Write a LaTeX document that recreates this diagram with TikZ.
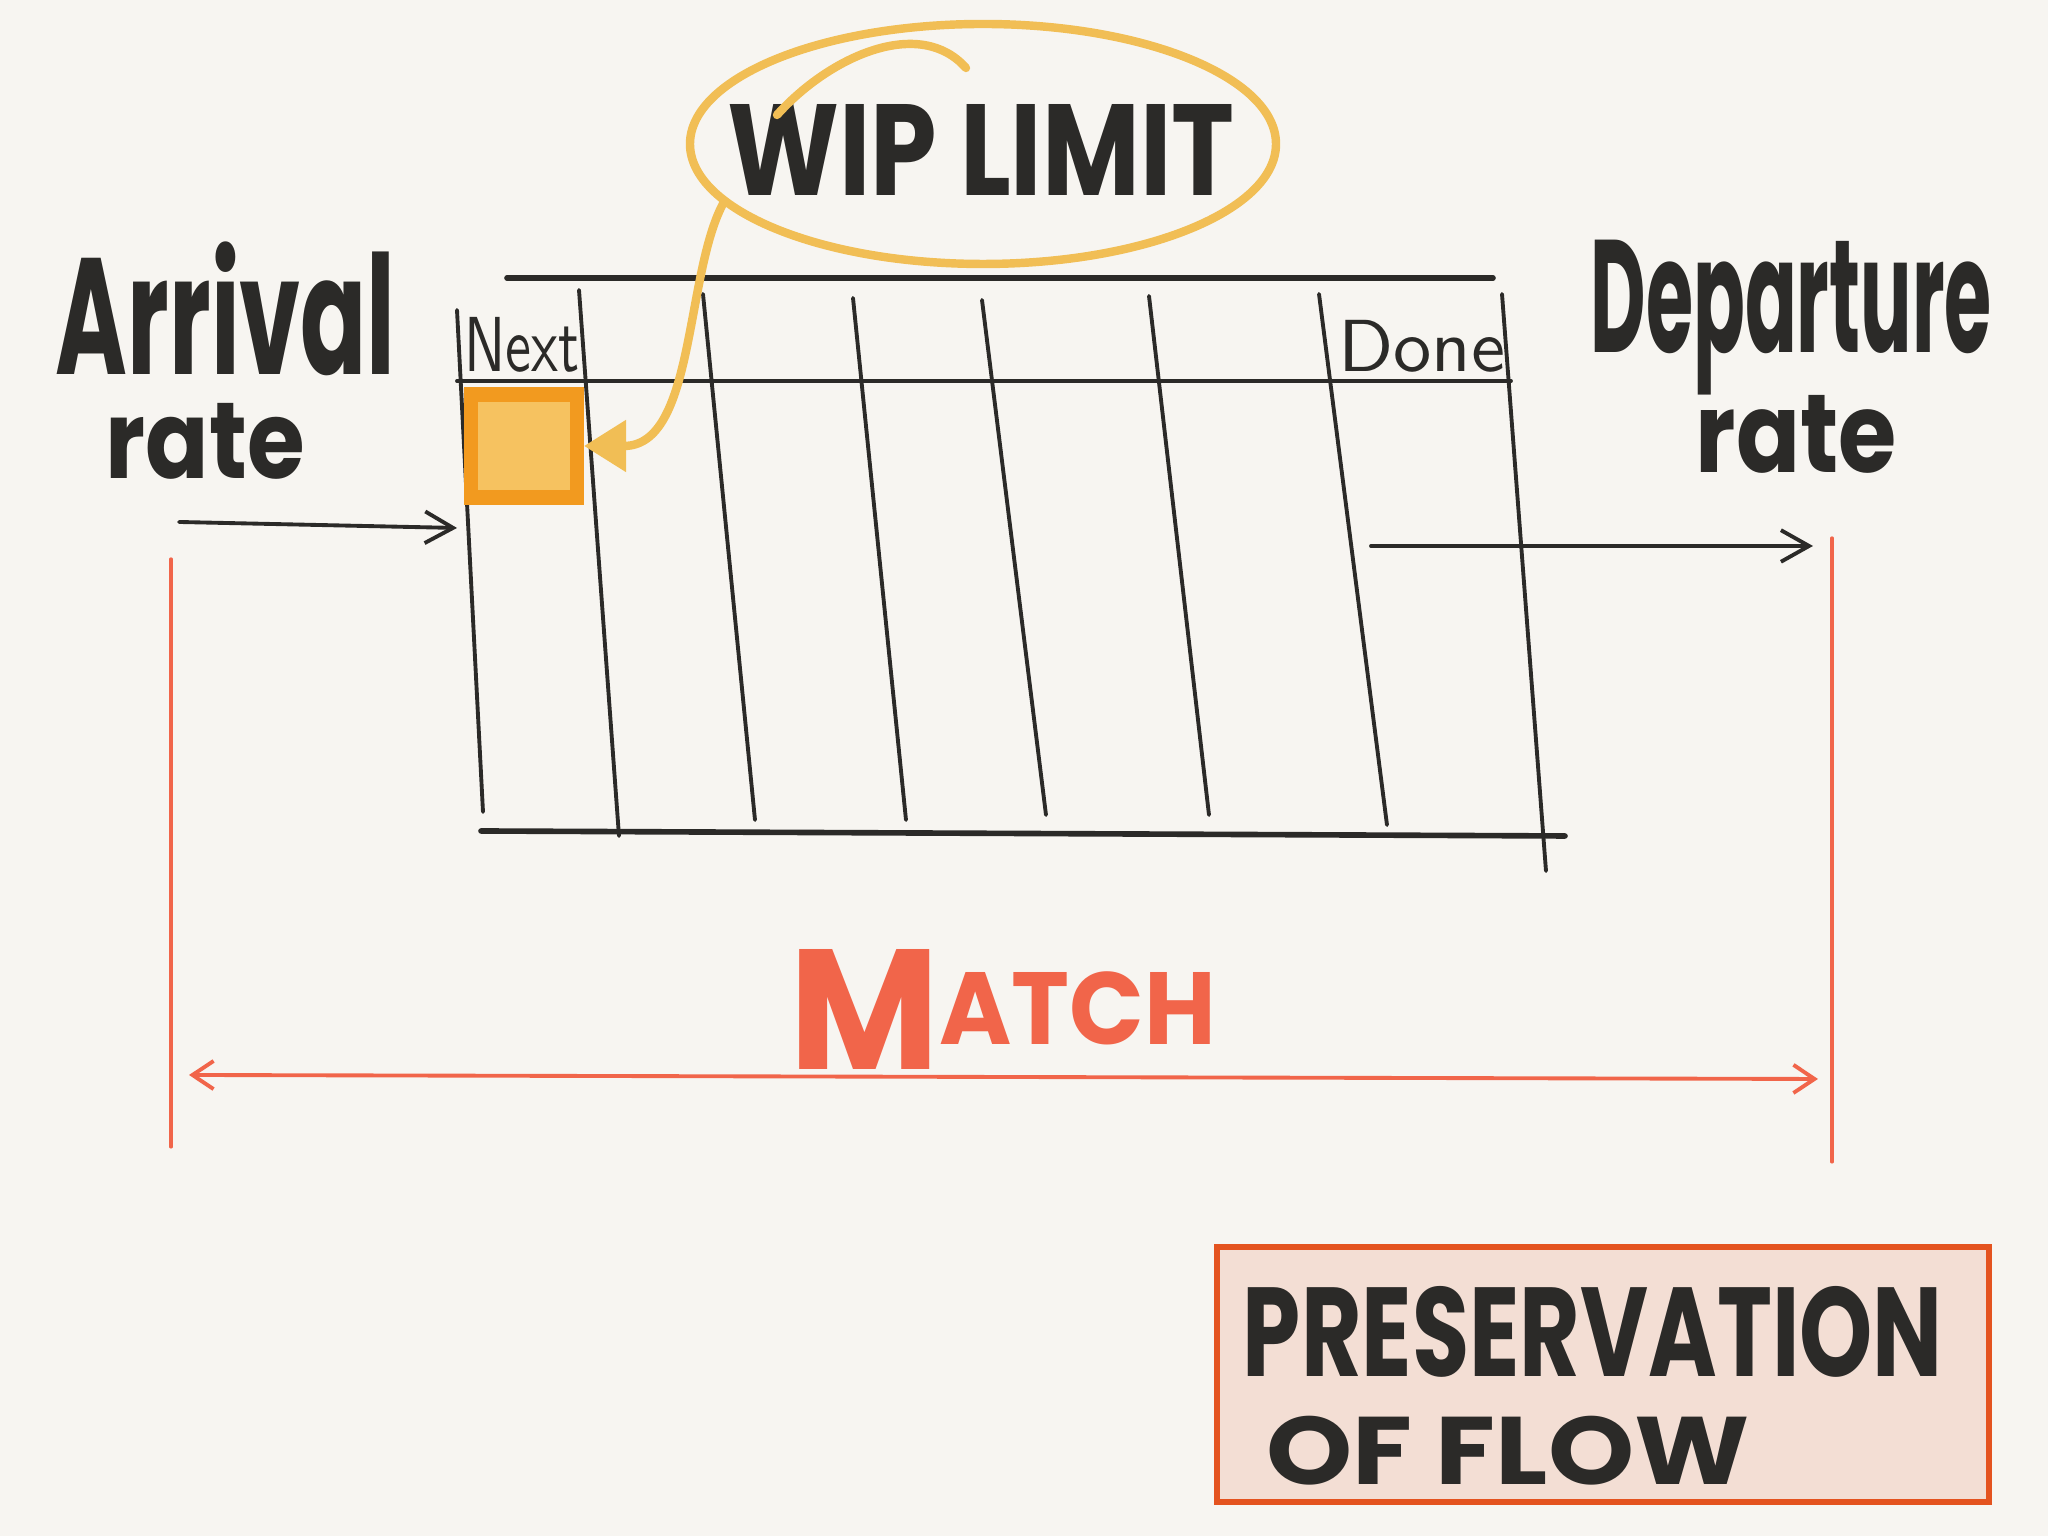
\documentclass[tikz,border=0pt]{standalone}
\usepackage{fontspec}
\setmainfont{Poppins}
\usepackage{graphicx}
\usetikzlibrary{positioning, arrows.meta, shapes.geometric, calc}
\definecolor{paper}{HTML}{F7F5F1}
\definecolor{ink}{HTML}{2B2A28}
\definecolor{matchred}{HTML}{F1654A}
\definecolor{wipyellow}{HTML}{F1BE55}
\definecolor{cardorange}{HTML}{F29A1F}
\definecolor{cardfill}{HTML}{F6C260}
\definecolor{boxfill}{HTML}{F3DED4}
\definecolor{boxline}{HTML}{E4531F}
\newcommand{\hand}[3]{\resizebox*{#1}{#2}{\bfseries #3}}

\begin{document}
\begin{tikzpicture}[
    every node/.style={inner sep=0pt, text=ink},
    board/.style={draw=ink, line width=1.1pt, line cap=round},
    rim/.style={draw=ink, line width=1.6pt, line cap=round},
    rateflow/.style={draw=ink, line width=1.1pt, line cap=round,
                     -{Straight Barb[length=8pt, width=9pt, line width=1.1pt]}},
    match/.style={draw=matchred, line width=0.9pt, line cap=round},
    matchflow/.style={draw=matchred, line width=1.1pt, line cap=round,
                      {Straight Barb[length=6pt, width=8pt, line width=1.1pt]}-{Straight Barb[length=6pt, width=8pt, line width=1.1pt]}},
    wipring/.style={ellipse, draw=wipyellow, line width=2.4pt,
                    minimum width=5.86cm, minimum height=2.40cm},
    wipline/.style={draw=wipyellow, line width=2.4pt, line cap=round},
    card/.style={draw=cardorange, fill=cardfill, line width=4pt,
                 minimum width=1.06cm, minimum height=1.03cm},
    flowbox/.style={draw=boxline, fill=boxfill, line width=1.6pt,
                    minimum width=7.72cm, minimum height=2.55cm},
    ratelabel/.style={align=left, anchor=north west},
  ]
  \fill[paper] (0,0) rectangle (20.48,15.36);
  \useasboundingbox (0,0) rectangle (20.48,15.36);

  \draw[rim] (5.07,12.58) -- (14.93,12.58);
  \draw[board] (4.57,11.55) -- (15.11,11.55);
  \draw[rim] (4.81,7.05) -- (15.65,7.00);
  \foreach \xa/\ya/\xb/\yb in {4.57/12.26/4.83/7.24, 5.79/12.46/6.19/7.00,
      7.03/12.42/7.55/7.16, 8.53/12.38/9.06/7.16, 9.82/12.36/10.46/7.21,
      11.49/12.40/12.09/7.21, 13.19/12.42/13.87/7.11, 15.02/12.42/15.46/6.65}
    \draw[board] (\xa,\ya) -- (\xb,\yb);

  \node (next) at (5.22,11.91) {\resizebox*{1.15cm}{0.55cm}{\sffamily Next}};
  \node (done) at (14.22,11.90) {\resizebox*{1.67cm}{0.52cm}{\sffamily Done}};
  \node[card] (card) at (5.24,10.90) {};

  \node[wipring] (wip) at (9.83,13.92) {};
  \node (wiptext) at (9.81,13.86) {\hand{5.07cm}{0.91cm}{WIP LIMIT}};
  \draw[wipline] (7.77,14.21) .. controls (8.3,14.8) and (9.2,15.2) .. (9.66,14.68);
  \draw[wipline, -{Triangle[length=0.42cm, width=0.5cm]}]
    (wip.193) .. controls (6.85,12.6) and (6.95,10.9) .. (card.east);

  \node[ratelabel] (arrival) at (0.55,12.95)
    {\hand{3.40cm}{1.34cm}{Arrival}\\[0.24cm]\hspace*{0.50cm}\hand{1.99cm}{0.76cm}{rate}};
  \node[ratelabel] (departure) at (15.90,12.97)
    {\hand{4.01cm}{1.55cm}{Departure}\\[-0.03cm]\hspace*{1.05cm}\hand{2.01cm}{0.78cm}{rate}};

  \coordinate (arrin) at (1.79,10.14);
  \coordinate (arrend) at (4.57,10.08);
  \coordinate (depout) at (13.71,9.90);
  \coordinate (depend) at (18.13,9.90);
  \draw[rateflow] (arrin) -- (arrend);
  \draw[rateflow] (depout) -- (depend);

  \coordinate (lefttop) at (1.71,9.77);
  \coordinate (leftfoot) at (1.71,3.89);
  \coordinate (righttop) at (18.32,9.98);
  \coordinate (rightfoot) at (18.32,3.74);
  \coordinate (matchl) at (1.89,4.61);
  \coordinate (matchr) at (18.18,4.57);
  \draw[match] (lefttop) -- (leftfoot);
  \draw[match] (righttop) -- (rightfoot);
  \draw[matchflow] (matchl) -- (matchr);
  \node[text=matchred] (match) at (10.03,5.26)
    {\hand{4.27cm}{1.20cm}{M\raisebox{1.5pt}{\fontsize{6}{6}\selectfont ATCH}}};

  \node[flowbox] (pof) at (16.03,1.615) {};
  \node (pres) at (15.93,2.04) {\hand{7.00cm}{0.91cm}{PRESERVATION}};
  \node (offlow) at (15.08,0.85) {\hand{4.83cm}{0.69cm}{OF FLOW}};
\end{tikzpicture}
\end{document}
